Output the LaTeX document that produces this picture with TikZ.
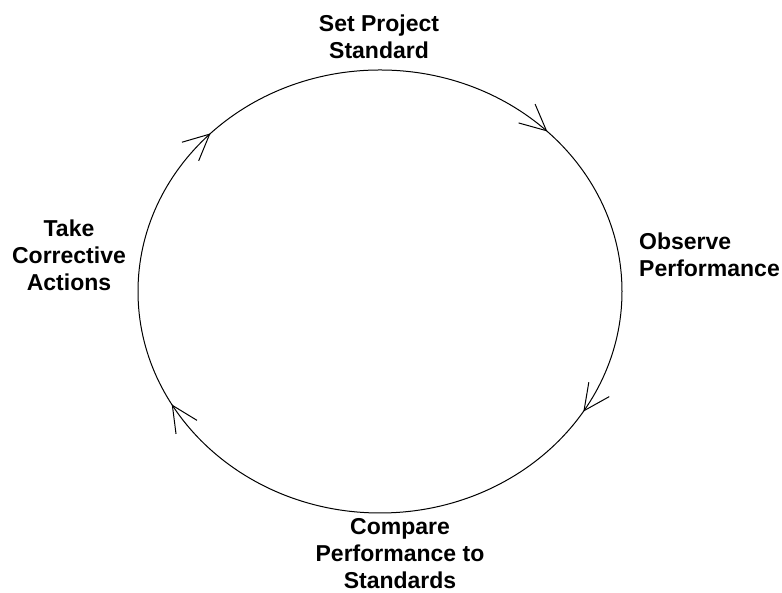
\documentclass[tikz,border=0pt]{standalone}
\usepackage{fontspec}
\setmainfont{Liberation Sans}
\usetikzlibrary{arrows.meta,decorations.markings}
\tikzset{
  lbl/.style={font=\bfseries\fontsize{23}{27}\selectfont, inner sep=0pt, text=black},
  barb/.tip={Straight Barb[length=26pt,width=25pt,line width=1pt]},
  cyc/.style={draw=black, line width=1pt,
    postaction={decorate},
    decoration={markings,
      mark=at position 0.125 with {\arrowreversed{barb}},
      mark=at position 0.377 with {\arrowreversed{barb}},
      mark=at position 0.582 with {\arrowreversed{barb}},
      mark=at position 0.912 with {\arrowreversed{barb}}}}
}
\begin{document}
\begin{tikzpicture}[x=1pt,y=1pt]
\useasboundingbox (0,0) rectangle (782,593);
\coordinate (c) at (380,301.5);
\path[cyc] (c) ellipse [x radius=242, y radius=221.5];
\node[lbl, align=center, anchor=north] (set) at (379,578) {Set Project\\Standard};
\node[lbl, align=left, anchor=north west] (obs) at (639,360) {Observe\\Performance};
\node[lbl, align=center, anchor=north] (cmp) at (400,75) {Compare\\Performance to\\Standards};
\node[lbl, align=center, anchor=north] (take) at (69,373) {Take\\Corrective\\Actions};
\end{tikzpicture}
\end{document}
